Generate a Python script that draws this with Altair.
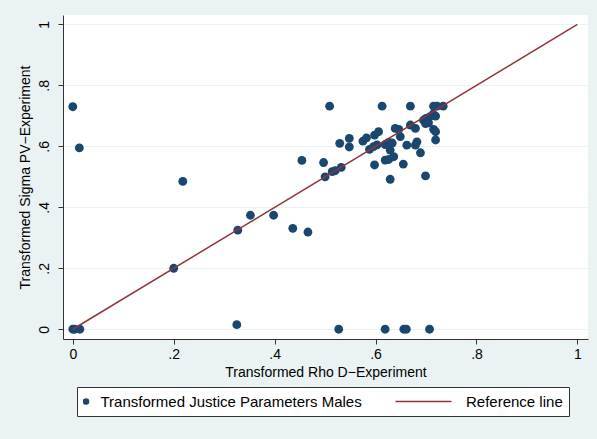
import altair as alt
import pandas as pd

# Transformed Rho D-Experiment (x) and Transformed Sigma PV-Experiment (y), males
rho_values = [
    0.000, 0.013, 0.218, 0.352, 0.398, 0.327, 0.200, 0.325, 0.000, 0.014,
    0.004, 0.527, 0.619, 0.656, 0.661, 0.707, 0.436, 0.466, 0.629, 0.699,
    0.509, 0.613, 0.669, 0.715, 0.722, 0.734, 0.454, 0.497, 0.500, 0.514,
    0.520, 0.532, 0.529, 0.548, 0.548, 0.575, 0.582, 0.588, 0.598, 0.606,
    0.603, 0.596, 0.598, 0.619, 0.626, 0.633, 0.629, 0.619, 0.626, 0.636,
    0.639, 0.646, 0.649, 0.655, 0.662, 0.669, 0.679, 0.679, 0.682, 0.689,
    0.695, 0.700, 0.707, 0.714, 0.719, 0.699, 0.705, 0.715, 0.719, 0.719,
]
sigma_values = [
    0.730, 0.595, 0.485, 0.374, 0.374, 0.325, 0.200, 0.015, 0.000, 0.000,
    0.000, 0.000, 0.000, 0.000, 0.000, 0.000, 0.331, 0.319, 0.492, 0.503,
    0.732, 0.732, 0.732, 0.732, 0.732, 0.732, 0.554, 0.547, 0.500, 0.517,
    0.520, 0.531, 0.610, 0.626, 0.598, 0.617, 0.628, 0.590, 0.637, 0.648,
    0.605, 0.599, 0.539, 0.606, 0.613, 0.611, 0.588, 0.555, 0.557, 0.566,
    0.659, 0.656, 0.632, 0.542, 0.604, 0.670, 0.659, 0.604, 0.615, 0.579,
    0.686, 0.692, 0.697, 0.706, 0.699, 0.675, 0.677, 0.656, 0.648, 0.621,
]

# 45-degree reference line
ref_x = [0, 1]
ref_y = [0, 1]

tick_values = [0, 0.2, 0.4, 0.6, 0.8, 1]

series_label = "Transformed Justice Parameters Males"
line_label = "Reference line"
legend_domain = [series_label, line_label]

navy = "#1A476F"
maroon = "#90353B"
backdrop = "#EAF2F3"

points_df = pd.DataFrame({"x": rho_values, "y": sigma_values, "series": series_label})
line_df = pd.DataFrame({"x": ref_x, "y": ref_y, "series": line_label})

stata_fmt = ("datum.value == 0 ? '0' : datum.value == 1 ? '1' : "
             "replace(format(datum.value, '.1f'), '0.', '.')")

x_scale = alt.Scale(domain=[-0.0194, 1.021], nice=False, zero=False)
y_scale = alt.Scale(domain=[-0.032, 1.031], nice=False, zero=False)

x_axis = alt.Axis(
    values=tick_values, labelExpr=stata_fmt, grid=False,
    tickSize=5, labelPadding=3, titlePadding=4,
    title="Transformed Rho D\u2212Experiment",
)
y_axis = alt.Axis(
    values=tick_values, labelExpr=stata_fmt, grid=True,
    gridColor=backdrop, gridWidth=1.2,
    tickSize=5, labelAngle=-90, labelAlign="center",
    labelBaseline="alphabetic", labelPadding=10, titlePadding=5,
    title="Transformed Sigma PV\u2212Experiment",
)

color_scale = alt.Scale(domain=legend_domain, range=[navy, maroon])

is_line = f"datum.value === '{line_label}'"

legend = alt.Legend(
    title=None,
    orient="none",
    direction="horizontal",
    legendX=14,
    legendY=372,
    fillColor="white",
    strokeColor="#333333",
    padding=6,
    columnPadding=10,
    labelFontSize=15,
    labelLimit=400,
    labelOffset=alt.ExprRef(expr=f"{is_line} ? 35 : 7"),
    clipHeight=17,
    symbolOffset=alt.ExprRef(expr=f"{is_line} ? 44 : -4.5"),
    symbolType=alt.ExprRef(expr=f"{is_line} ? 'stroke' : 'circle'"),
    symbolSize=alt.ExprRef(expr=f"{is_line} ? 3136 : 26"),
    symbolStrokeColor=alt.ExprRef(expr=f"{is_line} ? '{maroon}' : '{navy}'"),
    symbolFillColor=navy,
    symbolStrokeWidth=1.5,
    symbolOpacity=1,
)

points = alt.Chart(points_df).mark_point(filled=True, opacity=1, size=78).encode(
    x=alt.X("x:Q", scale=x_scale, axis=x_axis),
    y=alt.Y("y:Q", scale=y_scale, axis=y_axis),
    color=alt.Color("series:N", scale=color_scale, legend=legend),
)

ref_line = alt.Chart(line_df).mark_line(strokeWidth=1.5).encode(
    x=alt.X("x:Q", scale=x_scale, axis=x_axis),
    y=alt.Y("y:Q", scale=y_scale, axis=y_axis),
    color=alt.Color("series:N", scale=color_scale, legend=legend),
)

chart = (
    alt.layer(points, ref_line)
    .properties(
        width=525,
        height=324,
        autosize=alt.AutoSizeParams(type="none"),
        padding={"left": 63, "top": 15, "right": 9, "bottom": 100},
        background=backdrop,
    )
    .configure(font="Liberation Sans")
    .configure_view(fill="white", strokeWidth=0)
    .configure_axis(
        domainColor="#333333", tickColor="#333333",
        labelColor="black", titleColor="black",
        labelFontSize=14, titleFontSize=14,
        titleFontWeight="normal",
    )
    .configure_legend(labelColor="black")
)

chart.save("out.html", embed_options={"renderer": "svg", "actions": False})
